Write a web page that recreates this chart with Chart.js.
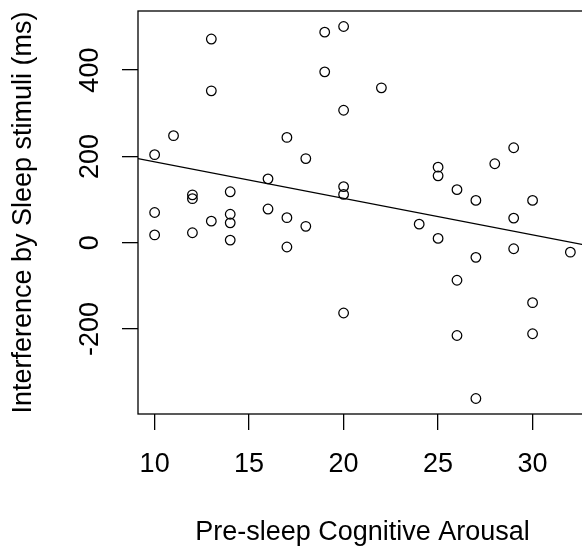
<!DOCTYPE html>
<html><head><meta charset="utf-8">
<script src="https://cdn.jsdelivr.net/npm/chart.js@4"></script>
<style>
html,body{margin:0;padding:0;background:#fff;overflow:hidden;width:582px;height:553px}
canvas{display:block}
</style></head>
<body><canvas id="c" width="600" height="553"></canvas>
<script>
const arousal = [13,13,19,20,19,20,11,17,10,18,16,20,20,12,12,14,10,14,14,16,17,13,10,12,14,18,17,20,
                 22,25,25,26,27,28,29,30,29,24,25,27,29,32,26,30,26,30,27];
const interference = [472,352,488,501,396,307,248,244,204,195,148,130,112,111,102,118,70,66,46,78,58,50,18,23,6,38,-10,-163,
                 359,175,155,123,98,183,220,98,57,43,10,-34,-14,-22,-87,-139,-215,-211,-361];
const xTickValues = [10,15,20,25,30];
const yTickValues = [-200,0,200,400];
const xRange = [9.12, 32.88];
const yRange = [-397, 537];
const fitX = [9.12, 32.88];
const fitY = [195, -6.4];
const xTitle = 'Pre-sleep Cognitive Arousal';
const yTitle = 'Interference by Sleep stimuli (ms)';

const FONT = {family: "'Liberation Sans', Arial, sans-serif", size: 27};
const frame = {
  id: 'frame',
  afterDraw(chart) {
    const {ctx, chartArea: a} = chart;
    ctx.save();
    ctx.strokeStyle = '#000';
    ctx.lineWidth = 1.3;
    ctx.strokeRect(a.left, a.top, a.right - a.left, a.bottom - a.top);
    ctx.restore();
  }
};
function noPad(s) { s.paddingTop = 0; s.paddingBottom = 0; s.paddingLeft = 0; s.paddingRight = 0; }

new Chart(document.getElementById('c'), {
  type: 'scatter',
  data: {
    datasets: [
      {
        data: arousal.map((x, i) => ({x, y: interference[i]})),
        pointStyle: 'circle',
        pointRadius: 4.8,
        pointBorderWidth: 1.25,
        pointBorderColor: '#000',
        pointBackgroundColor: 'rgba(0,0,0,0)',
        showLine: false
      },
      {
        type: 'line',
        data: fitX.map((x, i) => ({x, y: fitY[i]})),
        borderColor: '#000',
        borderWidth: 1.3,
        pointRadius: 0,
        fill: false
      }
    ]
  },
  options: {
    responsive: false,
    animation: false,
    devicePixelRatio: 1,
    layout: {padding: {left: 0, right: 13, top: 11, bottom: 0}},
    plugins: {legend: {display: false}, tooltip: {enabled: false}},
    scales: {
      x: {
        type: 'linear', min: xRange[0], max: xRange[1],
        afterBuildTicks: s => { s.ticks = xTickValues.map(v => ({value: v})); },
        afterFit: s => { s.height = 139; noPad(s); },
        grid: {drawOnChartArea: false, drawTicks: true, tickLength: 16, color: '#000', lineWidth: 1.3},
        border: {display: false},
        ticks: {padding: 18.8, color: '#000', font: FONT, maxRotation: 0, autoSkip: false},
        title: {display: true, text: xTitle, color: '#000', font: FONT, padding: {top: 0, bottom: 4.5}}
      },
      y: {
        type: 'linear', min: yRange[0], max: yRange[1],
        afterBuildTicks: s => { s.ticks = yTickValues.map(v => ({value: v})); },
        afterFit: s => { s.width = 138; noPad(s); },
        grid: {drawOnChartArea: false, drawTicks: true, tickLength: 16, color: '#000', lineWidth: 1.3},
        border: {display: false},
        ticks: {padding: 4.5, color: '#000', font: FONT, minRotation: 90, maxRotation: 90, crossAlign: 'center', autoSkip: false},
        title: {display: true, text: yTitle, color: '#000', font: FONT, padding: {top: 7.8, bottom: 0}}
      }
    }
  },
  plugins: [frame]
});
</script>
</body></html>
